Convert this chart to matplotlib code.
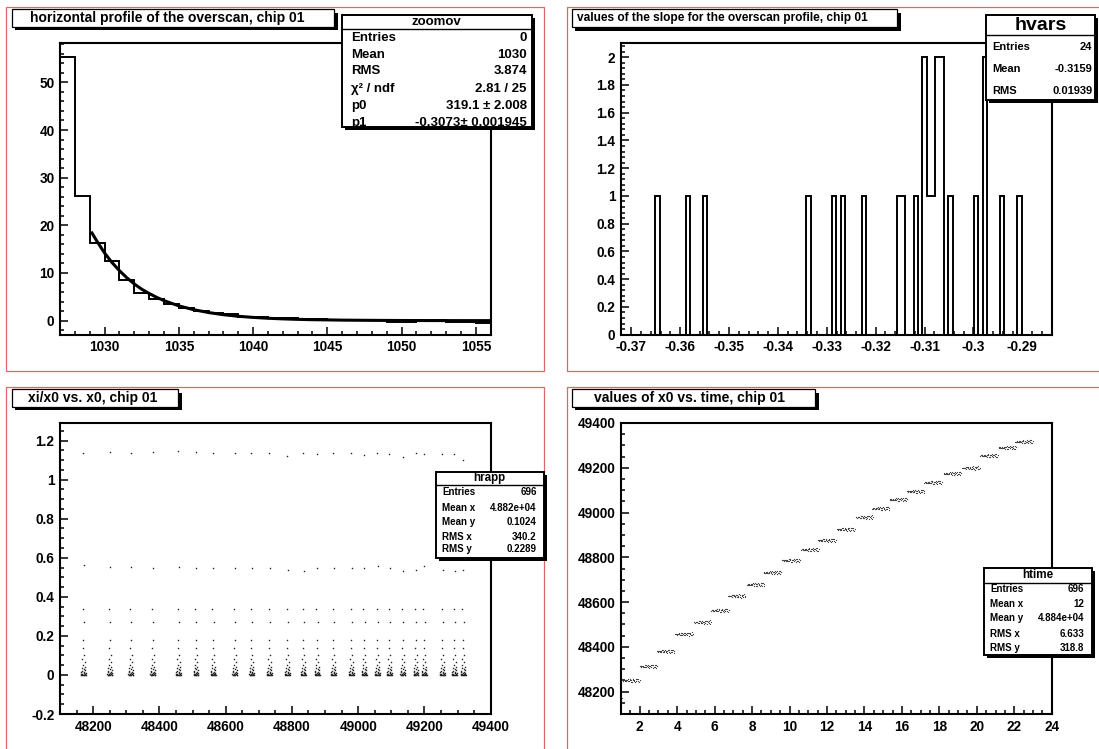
import numpy as np
import matplotlib.pyplot as plt
from matplotlib.patches import Rectangle
from matplotlib.lines import Line2D
from matplotlib.ticker import MultipleLocator, FuncFormatter

# top left: horizontal profile of the overscan, 1 column per bin
prof_lo, prof_hi = 1027, 1056
prof_counts = [55.3, 26.1, 16.3, 12.6, 8.6, 5.9, 4.6, 3.4, 2.7, 2.1,
               1.5, 1.3, 0.85, 0.7, 0.55, 0.5, 0.35, 0.35, 0.2, 0.15,
               0.1, 0.05, -0.3, -0.3, 0.0, 0.05, -0.3, -0.2, -0.4]
fit_x = [1029.15, 1029.5, 1030, 1030.5, 1031, 1031.5, 1032, 1032.5, 1033, 1033.5,
         1034, 1035, 1036, 1037, 1038, 1039, 1040, 1041, 1042, 1043,
         1044, 1046, 1048, 1050, 1053, 1056]
fit_y = [18.4, 16.6, 14.2, 12.2, 10.5, 9.0, 7.7, 6.6, 5.7, 4.9,
         4.2, 3.1, 2.3, 1.7, 1.25, 0.92, 0.68, 0.5, 0.37, 0.27,
         0.2, 0.11, 0.06, 0.03, 0.01, 0.0]

# top right: fitted slope for each run
slopes = [-0.36461, -0.35844, -0.35492, -0.33378, -0.32849, -0.32673, -0.32232,
          -0.31528, -0.31439, -0.31175, -0.30999, -0.30999, -0.30911, -0.30823,
          -0.30735, -0.30735, -0.30647, -0.30647, -0.30470, -0.29942, -0.29766,
          -0.29766, -0.29413, -0.29061]
slope_lo, slope_hi, slope_nbins = -0.3721, -0.2840, 100

# bottom: 24 runs, 29 readings each
run_x0 = [48170, 48250, 48313, 48380, 48457, 48510, 48562, 48627, 48678, 48732,
          48786, 48834, 48876, 48925, 48979, 49018, 49058, 49094, 49134, 49174,
          49199, 49254, 49290, 49316]
run_time = [0.10, 1.06, 1.99, 2.92, 3.91, 4.88, 5.82, 6.71, 7.72, 8.62,
            9.62, 10.63, 11.53, 12.54, 13.53, 14.40, 15.34, 16.27, 17.20, 18.23,
            19.22, 20.19, 21.16, 22.06]
top_ratio = [1.136, 1.142, 1.137, 1.142, 1.149, 1.142, 1.136, 1.136, 1.136, 1.136,
             1.120, 1.134, 1.131, 1.134, 1.134, 1.125, 1.134, 1.131, 1.114, 1.134,
             1.131, 1.129, 1.131, 1.103]
second_ratio = [0.564, 0.551, 0.551, 0.547, 0.551, 0.547, 0.547, 0.547, 0.547, 0.547,
                0.536, 0.530, 0.547, 0.547, 0.547, 0.547, 0.556, 0.547, 0.530, 0.539,
                0.556, 0.539, 0.530, 0.539]
low_ratio = [0.34, 0.27, 0.18, 0.14, 0.10, 0.08, 0.065, 0.05, 0.04, 0.035,
             0.03, 0.025, 0.02, 0.017, 0.014, 0.011, 0.009, 0.007, 0.005, 0.004,
             0.003, 0.002, 0.001, 0.0, 0.0, -0.002, 0.0]
reading_dt = [0.00, 0.04, 0.07, 0.10, 0.14, 0.17, 0.20, 0.23, 0.27, 0.30,
              0.33, 0.37, 0.40, 0.43, 0.47, 0.50, 0.53, 0.56, 0.60, 0.63,
              0.66, 0.70, 0.73, 0.76, 0.80, 0.83, 0.86, 0.89, 0.93]
reading_dx0 = [0, 1, -2, 2, 0, -1, 3, -3, 4, -2, 5, -4, 2, 6, -5,
               3, -6, 1, 7, -3, 4, -7, 5, -1, 6, -4, 8, -6, 2]

W, H = 1099, 749
PAD_RED = '#e06666'

plt.rcParams['font.family'] = ['Liberation Sans', 'DejaVu Sans']
plt.rcParams['font.weight'] = 'bold'

fig = plt.figure(figsize=(W / 100, H / 100), dpi=100)


def fx(x):
    return x / W


def fy(y):
    return 1 - y / H


def rect(x0, y0, x1, y1, **kw):
    fig.add_artist(Rectangle((fx(x0), fy(y1)), (x1 - x0) / W, (y1 - y0) / H, **kw))


def text(x, y, s, size, ha='center'):
    fig.text(fx(x), fy(y), s, ha=ha, va='center', fontsize=size,
             fontweight='bold', zorder=8)


def pave(x0, y0, x1, y1, lw=1.0, sh=3.5):
    rect(x0 + sh, y0 + sh, x1 + sh, y1 + sh, facecolor='black', edgecolor='none', zorder=5)
    rect(x0, y0, x1, y1, facecolor='white', edgecolor='black', lw=lw, zorder=6)


def title(x0, y0, x1, y1, s, size, cx):
    pave(x0, y0, x1, y1, lw=0.9)
    text(cx, (y0 + y1) / 2, s, size)


def stats(box, line_y, name, name_size, rows, row_size, lx, rx):
    x0, y0, x1, y1 = box
    pave(x0, y0, x1, y1, lw=1.4, sh=3)
    fig.add_artist(Line2D([fx(x0), fx(x1)], [fy(line_y)] * 2, color='black', lw=1.0, zorder=7))
    text((x0 + x1) / 2, (y0 + line_y) / 2, name, name_size)
    for label, value, ry in rows:
        text(lx, ry, label, row_size, ha='left')
        text(rx, ry, value, row_size, ha='right')


def root_fmt(v, pos):
    v = round(v, 6) + 0.0
    return f'{v:g}'


def frame(x0, y0, x1, y1, xmaj, xmin, ymaj, ymin):
    ax = fig.add_axes([fx(x0), fy(y1), (x1 - x0) / W, (y1 - y0) / H])
    for sp in ax.spines.values():
        sp.set_linewidth(1.5)
    ax.tick_params(which='both', direction='in', top=False, right=False,
                   width=1.1, labelsize=9.8, pad=4)
    ax.tick_params(which='major', length=6)
    ax.tick_params(which='minor', length=3)
    ax.xaxis.set_major_locator(MultipleLocator(xmaj))
    ax.xaxis.set_minor_locator(MultipleLocator(xmin))
    ax.yaxis.set_major_locator(MultipleLocator(ymaj))
    ax.yaxis.set_minor_locator(MultipleLocator(ymin))
    ax.xaxis.set_major_formatter(FuncFormatter(root_fmt))
    ax.yaxis.set_major_formatter(FuncFormatter(root_fmt))
    return ax


# pad borders
for px0, py0 in [(6, 7.3), (567.3, 7.3), (6, 386.7), (567.3, 386.7)]:
    rect(px0, py0, px0 + 538, py0 + 363.4, facecolor='none', edgecolor=PAD_RED, lw=0.9, zorder=1)

# top left
ax1 = frame(60, 43.3, 490.7, 334.7, 5, 1, 10, 2)
ax1.stairs(prof_counts, np.arange(prof_lo, prof_hi + 1), baseline=0, color='black', lw=1.4)
ax1.plot(fit_x, fit_y, color='black', lw=2.2)
ax1.set_xlim(prof_lo, prof_hi)
ax1.set_ylim(-2.95, 58.2)
title(11.7, 9, 334.4, 26.7, 'horizontal profile of the overscan, chip 01', 10, 167)
stats((341.7, 15, 531.7, 127.3), 29, 'zoomov', 9.5,
      [('Entries', '0', 37.7), ('Mean', '1030', 54.5), ('RMS', '3.874', 71.5),
       ('χ² / ndf', '2.81 / 25', 89), ('p0', '319.1 ± 2.008', 106),
       ('p1', '-0.3073± 0.001945', 122.7)], 9.5, 350.7, 526.7)

# top right
ax2 = frame(621, 43.3, 1051.7, 334.7, 0.01, 0.002, 0.2, 0.04)
ax2.hist(slopes, bins=np.linspace(slope_lo, slope_hi, slope_nbins + 1),
         histtype='step', color='black', lw=1.4)
ax2.set_xlim(slope_lo, slope_hi)
ax2.set_ylim(0, 2.1)
title(571.7, 9.3, 897, 27.3, 'values of the slope for the overscan profile, chip 01', 8.6, 722)
stats((986, 15, 1095, 100), 35, 'hvars', 14,
      [('Entries', '24', 47), ('Mean', '-0.3159', 69.5), ('RMS', '0.01939', 91)],
      8, 992.7, 1092.5)

# bottom left
xs, ys = [], []
for k, x0 in enumerate(run_x0):
    levels = [top_ratio[k], second_ratio[k]] + low_ratio
    for j, r in enumerate(levels):
        xs.append(x0 + reading_dx0[j])
        ys.append(r)
ax3 = frame(60, 423, 490.7, 714, 200, 50, 0.2, 0.05)
ax3.plot(xs, ys, 's', ms=1.0, mew=0, color='#222222')
ax3.set_xlim(48100, 49400)
ax3.set_ylim(-0.2, 1.29)
title(11.7, 389, 178, 406.7, 'xi/x0 vs. x0, chip 01', 10, 92.5)
stats((435.5, 471.7, 543.7, 557.7), 485, 'hrapp', 8.4,
      [('Entries', '696', 491.7), ('Mean x', '4.882e+04', 507.7), ('Mean y', '0.1024', 521.7),
       ('RMS x', '340.2', 536.7), ('RMS y', '0.2289', 549.3)], 7, 441.9, 536.7)

# bottom right
ts, vs = [], []
for k, x0 in enumerate(run_x0):
    for j, dt in enumerate(reading_dt):
        ts.append(run_time[k] + dt)
        vs.append(x0 + reading_dx0[j])
ax4 = frame(621, 423, 1051.7, 714, 2, 0.5, 200, 50)
ax4.plot(ts, vs, 's', ms=0.8, mew=0, color='#444444')
ax4.set_xlim(1, 24)
ax4.set_ylim(48100, 49400)
title(571.8, 389, 815.2, 406.7, 'values of x0 vs. time, chip 01', 10, 689)
stats((984, 568.3, 1092.3, 655), 582.7, 'htime', 8.4,
      [('Entries', '696', 588.7), ('Mean x', '12', 604.3), ('Mean y', '4.884e+04', 617.7),
       ('RMS x', '6.633', 633.7), ('RMS y', '318.8', 648.3)], 7, 990, 1084)

fig.savefig('out.png', dpi=100)
